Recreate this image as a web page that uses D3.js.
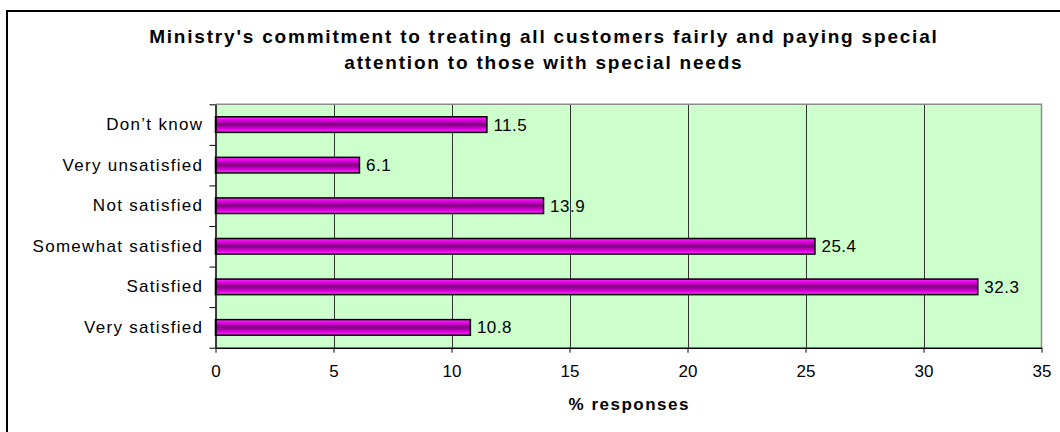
<!DOCTYPE html>
<html>
<head>
<meta charset="utf-8">
<script src="https://cdn.jsdelivr.net/npm/d3@7"></script>
<style>
  html, body { margin: 0; padding: 0; background: #ffffff; }
  svg { display: block; font-family: "Liberation Sans", Arial, sans-serif; }
</style>
</head>
<body>
<svg id="chart" width="1060" height="432"></svg>
<script>
const titleLines = [
  "Ministry's commitment to treating all customers fairly and paying special",
  "attention to those with special needs"
];
const categories = ["Don\u2019t know", "Very unsatisfied", "Not satisfied", "Somewhat satisfied", "Satisfied", "Very satisfied"];
const values = [11.5, 6.1, 13.9, 25.4, 32.3, 10.8];
const xTicks = [0, 5, 10, 15, 20, 25, 30, 35];
const xTitle = "% responses";

const svg = d3.select("#chart");
const W = 1060, H = 432;
const plot = { left: 215.5, right: 1041.5, top: 104.3, bottom: 347.7 };

// outer frame (top and left edges visible)
svg.append("line").attr("x1", 6).attr("x2", W).attr("y1", 11).attr("y2", 11)
  .attr("stroke", "#000").attr("stroke-width", 2);
svg.append("line").attr("x1", 7).attr("x2", 7).attr("y1", 10).attr("y2", H)
  .attr("stroke", "#000").attr("stroke-width", 2);

// gradient for bars
const defs = svg.append("defs");
const grad = defs.append("linearGradient").attr("id", "barGrad")
  .attr("x1", 0).attr("x2", 0).attr("y1", 0).attr("y2", 1);
grad.append("stop").attr("offset", "0%").attr("stop-color", "#ff33ff");
grad.append("stop").attr("offset", "20%").attr("stop-color", "#e600e6");
grad.append("stop").attr("offset", "50%").attr("stop-color", "#800080");
grad.append("stop").attr("offset", "80%").attr("stop-color", "#e600e6");
grad.append("stop").attr("offset", "100%").attr("stop-color", "#ff33ff");

const x = d3.scaleLinear().domain([0, 35]).range([plot.left, plot.right]);
const y = d3.scaleBand().domain(categories).range([plot.top, plot.bottom])
  .paddingInner(0.616).paddingOuter(0.308);
const yIdx = d3.scaleLinear().domain([0, categories.length]).range([plot.top, plot.bottom]);

// plot background
svg.append("rect").attr("x", plot.left).attr("y", plot.top)
  .attr("width", plot.right - plot.left).attr("height", plot.bottom - plot.top)
  .attr("fill", "#ccffcc");

// gridlines
svg.append("g").selectAll("line").data(xTicks.filter(t => t > 0 && t < 35)).join("line")
  .attr("x1", d => Math.round(x(d)) + 0.5).attr("x2", d => Math.round(x(d)) + 0.5)
  .attr("y1", plot.top).attr("y2", plot.bottom)
  .attr("stroke", "#333").attr("stroke-width", 1);

// plot border top/right (gray)
svg.append("path")
  .attr("d", `M${plot.left},${plot.top}H${plot.right}V${plot.bottom}`)
  .attr("fill", "none").attr("stroke", "#8c8c8c").attr("stroke-width", 1.5);

// bars
svg.append("g").selectAll("rect").data(categories).join("rect")
  .attr("x", x(0))
  .attr("y", d => y(d))
  .attr("width", (d, i) => x(values[i]) - x(0))
  .attr("height", y.bandwidth())
  .attr("fill", "url(#barGrad)")
  .attr("stroke", "#000").attr("stroke-width", 1.5);

// value labels
svg.append("g").selectAll("text").data(categories).join("text")
  .attr("x", (d, i) => x(values[i]) + 6.5)
  .attr("y", d => y(d) + y.bandwidth() / 2)
  .attr("dy", "0.35em")
  .attr("font-size", 17).attr("letter-spacing", 0.5).attr("fill", "#000")
  .text((d, i) => values[i].toFixed(1));

// bottom axis
const xAxis = svg.append("g").attr("transform", `translate(0,${plot.bottom})`)
  .call(d3.axisBottom(x).tickValues(xTicks).tickSize(5).tickSizeOuter(0).tickPadding(12));
xAxis.select(".domain").attr("stroke", "#000").attr("stroke-width", 1.5);
xAxis.selectAll(".tick line").attr("stroke", "#000");
xAxis.selectAll("text").attr("font-size", 17).attr("font-family", "Liberation Sans, Arial, sans-serif")
  .attr("fill", "#000");

// left axis: boundary ticks
const yAxisTicks = svg.append("g").attr("transform", `translate(${plot.left},0)`)
  .call(d3.axisLeft(yIdx).ticks(categories.length).tickFormat("").tickSize(6).tickSizeOuter(0));
yAxisTicks.select(".domain").attr("stroke", "#000").attr("stroke-width", 1.5);
yAxisTicks.selectAll(".tick line").attr("stroke", "#000");

// left axis: category labels
const yAxisLabels = svg.append("g").attr("transform", `translate(${plot.left},0)`)
  .call(d3.axisLeft(y).tickSize(0).tickPadding(12.2));
yAxisLabels.select(".domain").remove();
yAxisLabels.selectAll("text").attr("font-size", 17).attr("letter-spacing", 1.3)
  .attr("font-family", "Liberation Sans, Arial, sans-serif").attr("fill", "#000");

// title
const titleX = 543 + 0.9;
svg.append("g").selectAll("text").data(titleLines).join("text")
  .attr("x", titleX)
  .attr("y", (d, i) => 43 + i * 25.5)
  .attr("text-anchor", "middle")
  .attr("font-size", 19).attr("font-weight", "bold").attr("letter-spacing", 1.8)
  .attr("fill", "#000")
  .text(d => d);

// x axis title
svg.append("text")
  .attr("x", (plot.left + plot.right) / 2 + 0.75)
  .attr("y", 410)
  .attr("text-anchor", "middle")
  .attr("font-size", 17).attr("font-weight", "bold").attr("letter-spacing", 1.5)
  .attr("fill", "#000")
  .text(xTitle);
</script>
</body>
</html>
